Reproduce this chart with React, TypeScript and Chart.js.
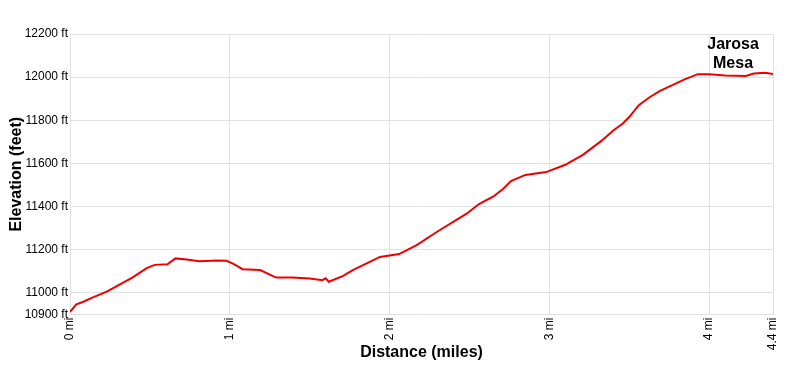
import React, { useEffect, useRef } from "react";
import { Chart, registerables } from "chart.js";

Chart.register(...registerables);

const distances: number[] = [
  0.0, 0.04, 0.08, 0.14, 0.23, 0.31, 0.39, 0.48, 0.53, 0.61, 0.66, 0.73, 0.81, 0.92, 0.98,
  1.02, 1.08, 1.19, 1.29, 1.39, 1.5, 1.58, 1.6, 1.62, 1.71, 1.77, 1.94, 2.06, 2.17, 2.29,
  2.48, 2.56, 2.65, 2.71, 2.76, 2.85, 2.98, 3.1, 3.21, 3.33, 3.4, 3.46, 3.5, 3.56, 3.63,
  3.69, 3.77, 3.85, 3.93, 4.0, 4.1, 4.23, 4.28, 4.35, 4.4,
];

const elevations: number[] = [
  10912, 10947, 10958, 10978, 11006, 11039, 11071, 11115, 11130, 11133, 11160, 11155, 11147, 11150, 11149,
  11136, 11110, 11106, 11071, 11071, 11067, 11059, 11068, 11052, 11079, 11106, 11167, 11180, 11222, 11280,
  11366, 11412, 11447, 11482, 11518, 11547, 11560, 11594, 11640, 11707, 11753, 11785, 11815, 11870, 11908,
  11935, 11963, 11991, 12014, 12014, 12008, 12005, 12017, 12020, 12014,
];

const xTickValues: number[] = [0, 1, 2, 3, 4, 4.4];
const yTickValues: number[] = [10900, 11000, 11200, 11400, 11600, 11800, 12000, 12200];

const annotationLines: string[] = ["Jarosa", "Mesa"];
const annotationAt = { x: 4.15, y: 12000 };

export default function App() {
  const canvasRef = useRef<HTMLCanvasElement | null>(null);

  useEffect(() => {
    document.body.style.margin = "0";
    const canvas = canvasRef.current;
    if (!canvas) return;

    const labelPlugin = {
      id: "peakLabel",
      afterDatasetsDraw(chart: any) {
        const { ctx, scales } = chart;
        const px = scales.x.getPixelForValue(annotationAt.x);
        const py = scales.y.getPixelForValue(annotationAt.y);
        ctx.save();
        ctx.font = "bold 16px Arial, 'Liberation Sans', sans-serif";
        ctx.fillStyle = "#000";
        ctx.textAlign = "center";
        ctx.textBaseline = "alphabetic";
        annotationLines.forEach((t, i) => {
          ctx.fillText(t, px, py - 28 + i * 19);
        });
        ctx.restore();
      },
    };

    const chart = new Chart(canvas, {
      type: "line",
      data: {
        datasets: [
          {
            data: distances.map((d, i) => ({ x: d, y: elevations[i] })),
            borderColor: "#ee0000",
            borderWidth: 2,
            pointRadius: 0,
            tension: 0,
            fill: false,
          },
        ],
      },
      options: {
        animation: false,
        responsive: false,
        maintainAspectRatio: false,
        layout: { padding: { top: 34, right: 27, bottom: 0, left: 0 } },
        plugins: { legend: { display: false }, tooltip: { enabled: false } },
        scales: {
          x: {
            type: "linear",
            min: 0,
            max: 4.4,
            afterBuildTicks: (scale: any) => {
              scale.ticks = xTickValues.map((v) => ({ value: v }));
            },
            afterFit: (scale: any) => {
              scale.height = 62.5;
            },
            grid: { color: "#e2e2e2", drawTicks: false, lineWidth: 1 },
            border: { display: false },
            ticks: {
              minRotation: 90,
              maxRotation: 90,
              padding: 3,
              color: "#000",
              font: { family: "Arial, 'Liberation Sans', sans-serif", size: 12 },
              callback: (v: any) => `${v} mi`,
            },
            title: {
              display: true,
              text: "Distance (miles)",
              color: "#000",
              font: { family: "Arial, 'Liberation Sans', sans-serif", size: 16, weight: "bold" },
              padding: { top: 0, bottom: 15 },
            },
          },
          y: {
            type: "linear",
            min: 10900,
            max: 12200,
            afterBuildTicks: (scale: any) => {
              scale.ticks = yTickValues.map((v) => ({ value: v }));
            },
            afterFit: (scale: any) => {
              scale.width = 70;
            },
            grid: { color: "#e2e2e2", drawTicks: false, lineWidth: 1 },
            border: { display: false },
            ticks: {
              padding: 2,
              color: "#000",
              font: { family: "Arial, 'Liberation Sans', sans-serif", size: 12 },
              callback: (v: any) => `${v} ft`,
            },
            title: {
              display: true,
              text: "Elevation (feet)",
              color: "#000",
              font: { family: "Arial, 'Liberation Sans', sans-serif", size: 16, weight: "bold" },
              padding: { top: 7, bottom: 0 },
            },
          },
        },
      },
      plugins: [labelPlugin],
    });

    return () => {
      chart.destroy();
    };
  }, []);

  return (
    <div style={{ width: 800, height: 377, background: "#fff" }}>
      <canvas ref={canvasRef} width={800} height={377} style={{ display: "block" }} />
    </div>
  );
}
